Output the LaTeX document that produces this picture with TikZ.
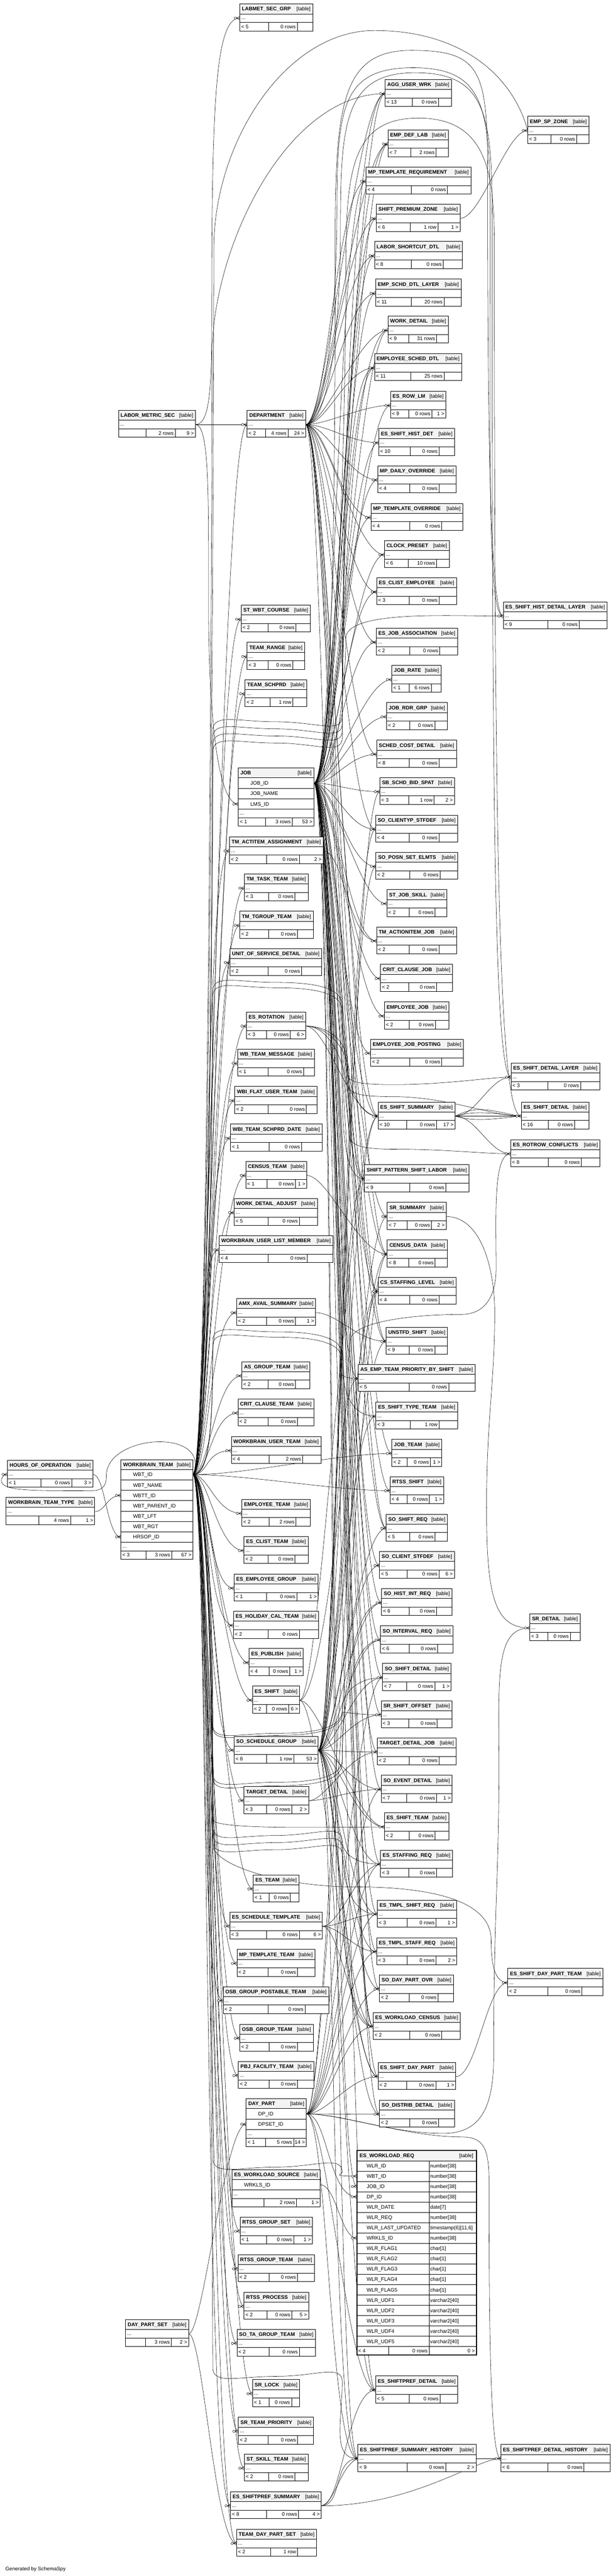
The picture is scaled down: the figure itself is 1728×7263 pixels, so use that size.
\documentclass[tikz,border=0pt]{standalone}
\usepackage{fontspec}
\setmainfont{Liberation Sans}
\pgfdeclarelayer{bg}
\pgfdeclarelayer{edges}
\pgfsetlayers{bg,edges,main}
\definecolor{hdrgray}{HTML}{F3F3F3}
\tikzset{
  hdr/.style={draw=black,fill=hdrgray,line width=1pt},
  cell/.style={draw=black,fill=white,line width=1pt},
  sepl/.style={draw=black,line width=1pt},
  fk/.style={draw=black,line width=0.8pt},
  ltxt/.style={anchor=base west,inner sep=0pt},
  rtxt/.style={anchor=base east,inner sep=0pt},
  crow/.pic={
    \draw[line width=0.8pt] (-9,0) -- (0,-5) (-9,0) -- (0,5) (-9,0) -- (0,0);
    \draw[line width=0.8pt,fill=white] (-12.5,0) circle[radius=3.3pt];
  }
}
% simple table: id, label, x, y, w, d1, d2, f1, f2, f3
\newcommand\tbl[9]{\def\tbid{#1}\def\tblabel{#2}\def\tbx{#3}\def\tby{#4}\def\tbw{#5}\def\tbdA{#6}\def\tbdB{#7}\def\tbfA{#8}\def\tbfB{#9}\tblfinish}
\newcommand\tblfinish[1]{%
  \pgfmathsetmacro\tbr{\tbx+\tbw}%
  \draw[hdr] (\tbx,\tby) rectangle (\tbr,\tby+28);
  \draw[cell] (\tbx,\tby+28) rectangle (\tbr,\tby+52);
  \draw[cell] (\tbx,\tby+52) rectangle (\tbr,\tby+76);
  \draw[sepl] (\tbdA,\tby+52) -- (\tbdA,\tby+76) (\tbdB,\tby+52) -- (\tbdB,\tby+76);
  \node[ltxt] (\tbid-h) at (\tbx+6,\tby+19.5) {\bfseries\tblabel};
  \node[rtxt] (\tbid-t) at (\tbr-6,\tby+19.5) {[table]};
  \node[ltxt] (\tbid-d) at (\tbx+4,\tby+44) {...};
  \node[ltxt] (\tbid-fa) at (\tbx+4,\tby+69) {\tbfA};
  \node[rtxt] (\tbid-fb) at (\tbdB-4,\tby+69) {\tbfB};
  \node[rtxt] (\tbid-fc) at (\tbr-4,\tby+69) {#1};
  \coordinate (\tbid-l) at (\tbx,\tby+40);
  \coordinate (\tbid-r) at (\tbr,\tby+40);
}
\newcommand\fhead[5]{%
  \draw[hdr] (#3,#4) rectangle (#3+#5,#4+28);
  \node[ltxt] (#1-h) at (#3+6,#4+19.5) {\bfseries #2};
  \node[rtxt] (#1-t) at (#3+#5-6,#4+19.5) {[table]};}
\newcommand\frow[6]{%
  \draw[cell] (#2,#3) rectangle (#2+#4,#3+#5);
  \node[ltxt] (#1) at (#2+34,#3+#5/2+5.3) {#6};}
\newcommand\fdots[4]{%
  \draw[cell] (#2,#3) rectangle (#2+#4,#3+24);
  \node[ltxt] (#1) at (#2+4,#3+16) {...};}
\newcommand\ffoot[9]{%
  \draw[cell] (#2,#3) rectangle (#2+#4,#3+24);
  \draw[sepl] (#5,#3) -- (#5,#3+24) (#6,#3) -- (#6,#3+24);
  \node[ltxt] (#1-fa) at (#2+4,#3+17) {#7};
  \node[rtxt] (#1-fb) at (#6-4,#3+17) {#8};
  \node[rtxt] (#1-fc) at (#2+#4-4,#3+17) {#9};}
\newcommand\trow[4]{%
  \draw[cell] (1006,#2) rectangle (1343,#2+29.1);
  \draw[sepl] (1210,#2) -- (1210,#2+29.1);
  \node[ltxt] (#1-n) at (1034,#2+19.9) {#3};
  \node[ltxt] (#1-y) at (1213,#2+19.9) {#4};}
% WORKBRAIN_TEAM edge through a gap: gap y, sign left channel, sign right channel, child
\newcommand\route[4]{%
  \path (#4); \pgfgetlastxy{\rcx}{\rcy}%
  \pgfmathsetmacro\rdy{abs(0-(\rcy)-(#1)-(#3)*40)*0.5}%
  \draw[fk] (wbt-r) .. controls +(45,0) and +(0,{0-(#2)*250}) .. (600,#1)
    .. controls +(0,{(#2)*50}) and +(-110,0) .. (780,{#1+(#2)*25})
    .. controls +(110,0) and +(0,{0-(#3)*50}) .. (965,{#1+(#3)*40})
    .. controls +(0,{(#3)*\rdy}) and +(-75,0) .. (#4);}
\begin{document}
\begin{tikzpicture}[x=1pt,y=-1pt,font=\fontsize{14.5}{17}\selectfont]
\useasboundingbox (0,0) rectangle (1728,7263);
\begin{pgfonlayer}{bg}
\fill[white] (0,0) rectangle (1728,7263);
\end{pgfonlayer}

% ---------------- column 1/2/3 tables
\tbl{labmet}{LABMET\_SEC\_GRP}{676}{11}{206}{758}{838}{< 5}{0 rows}{}
\tbl{lms}{LABOR\_METRIC\_SEC}{334}{1157}{217}{411}{494}{}{2 rows}{9 >}
\tbl{dept}{DEPARTMENT}{697}{1157}{165}{749}{812}{< 2}{4 rows}{24 >}
\tbl{stwbt}{ST\_WBT\_COURSE}{680}{1706}{195}{756}{835}{< 2}{0 rows}{}
\tbl{teamrange}{TEAM\_RANGE}{697}{1811}{162}{756}{826}{< 3}{0 rows}{}
\tbl{teamschprd}{TEAM\_SCHPRD}{691}{1916}{174}{761}{826}{< 2}{1 row}{}
\tbl{tmaa}{TM\_ACTITEM\_ASSIGNMENT}{647}{2359}{264}{752}{844}{< 2}{0 rows}{2 >}
\tbl{tmtask}{TM\_TASK\_TEAM}{689}{2464}{180}{757}{832}{< 3}{0 rows}{}
\tbl{tmtgroup}{TM\_TGROUP\_TEAM}{676}{2569}{207}{757}{839}{< 2}{0 rows}{}
\tbl{uos}{UNIT\_OF\_SERVICE\_DETAIL}{648}{2674}{259}{756}{850}{< 2}{0 rows}{}
\tbl{esrot}{ES\_ROTATION}{695}{2853}{167}{752}{819}{< 3}{0 rows}{6 >}
\tbl{wbtm}{WB\_TEAM\_MESSAGE}{670}{2958}{216}{756}{856}{< 1}{0 rows}{}
\tbl{wbifut}{WBI\_FLAT\_USER\_TEAM}{662}{3063}{232}{756}{864}{< 2}{0 rows}{}
\tbl{wbitsd}{WBI\_TEAM\_SCHPRD\_DATE}{650}{3169}{258}{759}{850}{< 1}{0 rows}{}
\tbl{censusteam}{CENSUS\_TEAM}{693}{3274}{172}{753}{833}{< 1}{0 rows}{1 >}
\tbl{wda}{WORK\_DETAIL\_ADJUST}{660}{3379}{235}{756}{844}{< 5}{0 rows}{}
\tbl{wulm}{WORKBRAIN\_USER\_LIST\_MEMBER}{618}{3484}{321}{756}{866}{< 4}{0 rows}{}
\tbl{amx}{AMX\_AVAIL\_SUMMARY}{667}{3661}{223}{752}{833}{< 2}{0 rows}{1 >}
\tbl{asgroup}{AS\_GROUP\_TEAM}{682}{3839}{192}{756}{833}{< 2}{0 rows}{}
\tbl{ccteam}{CRIT\_CLAUSE\_TEAM}{671}{3944}{214}{756}{839}{< 2}{0 rows}{}
\tbl{wbut}{WORKBRAIN\_USER\_TEAM}{652}{4050}{253}{759}{853}{< 4}{2 rows}{}
\tbl{empteam}{EMPLOYEE\_TEAM}{682}{4227}{193}{759}{835}{< 2}{2 rows}{}
\tbl{esclteam}{ES\_CLIST\_TEAM}{688}{4332}{181}{756}{832}{< 2}{0 rows}{}
\tbl{eseg}{ES\_EMPLOYEE\_GROUP}{660}{4438}{237}{752}{837}{< 1}{0 rows}{1 >}
\tbl{eshct}{ES\_HOLIDAY\_CAL\_TEAM}{658}{4543}{240}{756}{844}{< 2}{0 rows}{}
\tbl{espub}{ES\_PUBLISH}{702}{4648}{153}{759}{817}{< 4}{0 rows}{1 >}
\tbl{esshift}{ES\_SHIFT}{712}{4754}{133}{752}{814}{< 2}{0 rows}{6 >}
\tbl{sosg}{SO\_SCHEDULE\_GROUP}{660}{4895}{237}{752}{828}{< 8}{1 row}{53 >}
\tbl{tdet}{TARGET\_DETAIL}{688}{5037}{182}{752}{823}{< 3}{0 rows}{2 >}
\tbl{esteam}{ES\_TEAM}{714}{5286}{129}{759}{819}{< 1}{0 rows}{}
\tbl{esst}{ES\_SCHEDULE\_TEMPLATE}{648}{5391}{261}{752}{844}{< 3}{0 rows}{6 >}
\tbl{mptt}{MP\_TEMPLATE\_TEAM}{668}{5496}{220}{756}{839}{< 2}{0 rows}{}
\tbl{osbgpt}{OSB\_GROUP\_POSTABLE\_TEAM}{629}{5601}{298}{756}{860}{< 2}{0 rows}{}
\tbl{osbgt}{OSB\_GROUP\_TEAM}{676}{5707}{207}{759}{839}{< 2}{0 rows}{}
\tbl{pbj}{PBJ\_FACILITY\_TEAM}{672}{5812}{213}{759}{839}{< 2}{0 rows}{}
\tbl{rtssgs}{RTSS\_GROUP\_SET}{677}{6251}{204}{751}{828}{< 1}{0 rows}{1 >}
\tbl{rtssgt}{RTSS\_GROUP\_TEAM}{671}{6357}{215}{759}{839}{< 2}{0 rows}{}
\tbl{rtssp}{RTSS\_PROCESS}{688}{6463}{182}{753}{823}{< 2}{0 rows}{5 >}
\tbl{dps}{DAY\_PART\_SET}{354}{6540}{178}{410}{483}{}{3 rows}{2 >}
\tbl{sotagt}{SO\_TA\_GROUP\_TEAM}{668}{6567}{222}{759}{844}{< 2}{0 rows}{}
\tbl{srlock}{SR\_LOCK}{712}{6709}{133}{759}{822}{< 1}{0 rows}{}
\tbl{srtp}{SR\_TEAM\_PRIORITY}{672}{6815}{212}{756}{839}{< 2}{0 rows}{}
\tbl{stskill}{ST\_SKILL\_TEAM}{689}{6919}{180}{757}{832}{< 2}{0 rows}{}
\tbl{esps}{ES\_SHIFTPREF\_SUMMARY}{650}{7025}{256}{752}{842}{< 8}{0 rows}{4 >}
\tbl{tdps}{TEAM\_DAY\_PART\_SET}{667}{7131}{226}{763}{839}{< 2}{1 row}{}
\tbl{hoo}{HOURS\_OF\_OPERATION}{21}{4117}{241}{115}{202}{< 1}{0 rows}{3 >}
\tbl{wbtt}{WORKBRAIN\_TEAM\_TYPE}{17}{4222}{250}{109}{199}{}{4 rows}{1 >}

% JOB
\fhead{job}{JOB}{672}{2165}{213}
\frow{job-f1}{672}{2193}{213}{29.5}{JOB\_ID}
\frow{job-f2}{672}{2222.5}{213}{29.5}{JOB\_NAME}
\frow{job-f3}{672}{2252}{213}{29.5}{LMS\_ID}
\fdots{job-d}{672}{2281.5}{213}
\ffoot{job}{672}{2305.5}{213}{748}{824}{< 1}{3 rows}{53 >}
\coordinate (job-r) at (885,2208);
\coordinate (job-lms) at (672,2267);

% WORKBRAIN_TEAM
\fhead{wbt}{WORKBRAIN\_TEAM}{341}{4115}{203}
\frow{wbt-f1}{341}{4143}{203}{29.3}{WBT\_ID}
\frow{wbt-f2}{341}{4172.3}{203}{29.3}{WBT\_NAME}
\frow{wbt-f3}{341}{4201.6}{203}{29.3}{WBTT\_ID}
\frow{wbt-f4}{341}{4230.9}{203}{29.3}{WBT\_PARENT\_ID}
\frow{wbt-f5}{341}{4260.2}{203}{29.3}{WBT\_LFT}
\frow{wbt-f6}{341}{4289.5}{203}{29.3}{WBT\_RGT}
\frow{wbt-f7}{341}{4318.8}{203}{29.3}{HRSOP\_ID}
\fdots{wbt-d}{341}{4348.1}{203}
\ffoot{wbt}{341}{4372.1}{203}{412}{484}{< 3}{3 rows}{67 >}
\coordinate (wbt-r) at (544,4157.6);
\coordinate (wbt-wbtt) at (341,4216.2);
\coordinate (wbt-hrsop) at (341,4333.4);

% DAY_PART
\fhead{dp}{DAY\_PART}{694}{5917}{170}
\frow{dp-f1}{694}{5945}{170}{29.5}{DP\_ID}
\frow{dp-f2}{694}{5974.5}{170}{29.5}{DPSET\_ID}
\fdots{dp-d}{694}{6004}{170}
\ffoot{dp}{694}{6028}{170}{748}{828}{< 1}{5 rows}{14 >}
\coordinate (dp-r) at (864,5960);
\coordinate (dp-dpset) at (694,5989);

% ES_WORKLOAD_SOURCE
\fhead{esws}{ES\_WORKLOAD\_SOURCE}{654}{6117}{249}
\frow{esws-f1}{654}{6145}{249}{29.5}{WRKLS\_ID}
\fdots{esws-d}{654}{6174.5}{249}
\ffoot{esws}{654}{6198.5}{249}{744}{836}{}{2 rows}{1 >}
\coordinate (esws-r) at (903,6160);

% ---------------- column 4 tables
\tbl{agg}{AGG\_USER\_WRK}{1086}{224}{187}{1163}{1236}{< 13}{0 rows}{}
\tbl{edl}{EMP\_DEF\_LAB}{1094}{366}{170}{1158}{1230}{< 7}{2 rows}{}
\tbl{mptr}{MP\_TEMPLATE\_REQUIREMENT}{1032}{471}{296}{1159}{1262}{< 4}{0 rows}{}
\tbl{spz}{SHIFT\_PREMIUM\_ZONE}{1061}{576}{236}{1157}{1235}{< 6}{1 row}{1 >}
\tbl{lsd}{LABOR\_SHORTCUT\_DTL}{1056}{681}{248}{1159}{1250}{< 8}{0 rows}{}
\tbl{esdl}{EMP\_SCHD\_DTL\_LAYER}{1059}{787}{241}{1159}{1252}{< 11}{20 rows}{}
\tbl{wd}{WORK\_DETAIL}{1094}{891}{170}{1153}{1231}{< 9}{31 rows}{}
\tbl{esd}{EMPLOYEE\_SCHED\_DTL}{1056}{997}{246}{1158}{1252}{< 11}{25 rows}{}
\tbl{esrowlm}{ES\_ROW\_LM}{1101}{1103}{156}{1153}{1218}{< 9}{0 rows}{1 >}
\tbl{eshd}{ES\_SHIFT\_HIST\_DET}{1068}{1208}{214}{1157}{1238}{< 10}{0 rows}{}
\tbl{mpdo}{MP\_DAILY\_OVERRIDE}{1065}{1313}{221}{1155}{1238}{< 4}{0 rows}{}
\tbl{mpto}{MP\_TEMPLATE\_OVERRIDE}{1046}{1419}{259}{1155}{1246}{< 4}{0 rows}{}
\tbl{cp}{CLOCK\_PRESET}{1084}{1524}{183}{1151}{1231}{< 6}{10 rows}{}
\tbl{escle}{ES\_CLIST\_EMPLOYEE}{1062}{1629}{225}{1154}{1238}{< 3}{0 rows}{}
\tbl{esja}{ES\_JOB\_ASSOCIATION}{1061}{1771}{229}{1155}{1240}{< 2}{0 rows}{}
\tbl{jobrate}{JOB\_RATE}{1105}{1876}{139}{1154}{1216}{< 1}{6 rows}{}
\tbl{jrg}{JOB\_RDR\_GRP}{1090}{1981}{171}{1155}{1226}{< 2}{0 rows}{}
\tbl{scd}{SCHED\_COST\_DETAIL}{1062}{2087}{225}{1154}{1238}{< 8}{0 rows}{}
\tbl{sbsbs}{SB\_SCHD\_BID\_SPAT}{1071}{2192}{210}{1152}{1224}{< 3}{1 row}{2 >}
\tbl{soctsd}{SO\_CLIENTYP\_STFDEF}{1059}{2298}{232}{1154}{1238}{< 4}{0 rows}{}
\tbl{sopse}{SO\_POSN\_SET\_ELMTS}{1060}{2403}{231}{1155}{1241}{< 2}{0 rows}{}
\tbl{stjs}{ST\_JOB\_SKILL}{1091}{2508}{169}{1154}{1227}{< 2}{0 rows}{}
\tbl{tmaij}{TM\_ACTIONITEM\_JOB}{1062}{2613}{225}{1154}{1238}{< 2}{0 rows}{}
\tbl{ccjob}{CRIT\_CLAUSE\_JOB}{1073}{2719}{203}{1153}{1231}{< 2}{0 rows}{}
\tbl{empjob}{EMPLOYEE\_JOB}{1084}{2825}{182}{1154}{1228}{< 2}{0 rows}{}
\tbl{ejp}{EMPLOYEE\_JOB\_POSTING}{1045}{2930}{262}{1155}{1246}{< 2}{0 rows}{}
\tbl{esss}{ES\_SHIFT\_SUMMARY}{1066}{3107}{217}{1147}{1231}{< 10}{0 rows}{17 >}
\tbl{spsl}{SHIFT\_PATTERN\_SHIFT\_LABOR}{1028}{3284}{295}{1155}{1257}{< 9}{0 rows}{}
\tbl{srsum}{SR\_SUMMARY}{1092}{3390}{166}{1148}{1217}{< 7}{0 rows}{2 >}
\tbl{cdata}{CENSUS\_DATA}{1092}{3496}{169}{1152}{1227}{< 8}{0 rows}{}
\tbl{csl}{CS\_STAFFING\_LEVEL}{1066}{3601}{220}{1155}{1238}{< 4}{0 rows}{}
\tbl{unstfd}{UNSTFD\_SHIFT}{1089}{3742}{173}{1154}{1226}{< 9}{0 rows}{}
\tbl{asetp}{AS\_EMP\_TEAM\_PRIORITY\_BY\_SHIFT}{1010}{3847}{330}{1154}{1265}{< 5}{0 rows}{}
\tbl{estt}{ES\_SHIFT\_TYPE\_TEAM}{1060}{3953}{230}{1157}{1238}{< 3}{1 row}{}
\tbl{jobteam}{JOB\_TEAM}{1105}{4058}{141}{1148}{1214}{< 2}{0 rows}{1 >}
\tbl{rtsss}{RTSS\_SHIFT}{1100}{4163}{151}{1148}{1211}{< 4}{0 rows}{1 >}
\tbl{sosr}{SO\_SHIFT\_REQ}{1089}{4269}{173}{1155}{1227}{< 5}{0 rows}{}
\tbl{socs}{SO\_CLIENT\_STFDEF}{1070}{4374}{211}{1148}{1238}{< 5}{0 rows}{6 >}
\tbl{sohir}{SO\_HIST\_INT\_REQ}{1076}{4479}{199}{1154}{1231}{< 6}{0 rows}{}
\tbl{soir}{SO\_INTERVAL\_REQ}{1073}{4584}{204}{1154}{1234}{< 6}{0 rows}{}
\tbl{sosd}{SO\_SHIFT\_DETAIL}{1079}{4690}{193}{1147}{1226}{< 7}{0 rows}{1 >}
\tbl{srso}{SR\_SHIFT\_OFFSET}{1075}{4795}{200}{1153}{1233}{< 3}{0 rows}{}
\tbl{tdj}{TARGET\_DETAIL\_JOB}{1064}{4900}{222}{1154}{1238}{< 2}{0 rows}{}
\tbl{soed}{SO\_EVENT\_DETAIL}{1075}{5005}{200}{1147}{1231}{< 7}{0 rows}{1 >}
\tbl{esshteam}{ES\_SHIFT\_TEAM}{1084}{5111}{181}{1154}{1227}{< 2}{0 rows}{}
\tbl{esstaff}{ES\_STAFFING\_REQ}{1073}{5216}{203}{1153}{1231}{< 3}{0 rows}{}
\tbl{estshr}{ES\_TMPL\_SHIFT\_REQ}{1064}{5357}{223}{1148}{1230}{< 3}{0 rows}{1 >}
\tbl{estsr}{ES\_TMPL\_STAFF\_REQ}{1062}{5463}{226}{1148}{1230}{< 3}{0 rows}{2 >}
\tbl{sodpo}{SO\_DAY\_PART\_OVR}{1070}{5568}{209}{1154}{1235}{< 2}{0 rows}{}
\tbl{eswc}{ES\_WORKLOAD\_CENSUS}{1052}{5674}{246}{1155}{1246}{< 2}{0 rows}{}
\tbl{essdp}{ES\_SHIFT\_DAY\_PART}{1066}{5815}{219}{1147}{1229}{< 2}{0 rows}{1 >}
\tbl{sodd}{SO\_DISTRIB\_DETAIL}{1070}{5921}{211}{1155}{1237}{< 2}{0 rows}{}
\tbl{espd}{ES\_SHIFTPREF\_DETAIL}{1059}{6699}{232}{1154}{1241}{< 5}{0 rows}{}
\tbl{espsh}{ES\_SHIFTPREF\_SUMMARY\_HISTORY}{1009}{6892}{333}{1148}{1257}{< 9}{0 rows}{2 >}

% ES_WORKLOAD_REQ (focus table)
\draw[hdr] (1006,6063) rectangle (1343,6092);
\node[ltxt] (eswr-h) at (1014,6082.5) {\bfseries ES\_WORKLOAD\_REQ};
\node[rtxt] (eswr-t) at (1335,6082.5) {[table]};
\trow{eswr1}{6092}{WLR\_ID}{number[38]}
\trow{eswr2}{6121.1}{WBT\_ID}{number[38]}
\trow{eswr3}{6150.2}{JOB\_ID}{number[38]}
\trow{eswr4}{6179.3}{DP\_ID}{number[38]}
\trow{eswr5}{6208.4}{WLR\_DATE}{date[7]}
\trow{eswr6}{6237.5}{WLR\_REQ}{number[38]}
\trow{eswr7}{6266.6}{WLR\_LAST\_UPDATED}{timestamp(6)[11,6]}
\trow{eswr8}{6295.7}{WRKLS\_ID}{number[38]}
\trow{eswr9}{6324.8}{WLR\_FLAG1}{char[1]}
\trow{eswr10}{6353.9}{WLR\_FLAG2}{char[1]}
\trow{eswr11}{6383.0}{WLR\_FLAG3}{char[1]}
\trow{eswr12}{6412.1}{WLR\_FLAG4}{char[1]}
\trow{eswr13}{6441.2}{WLR\_FLAG5}{char[1]}
\trow{eswr14}{6470.3}{WLR\_UDF1}{varchar2[40]}
\trow{eswr15}{6499.4}{WLR\_UDF2}{varchar2[40]}
\trow{eswr16}{6528.5}{WLR\_UDF3}{varchar2[40]}
\trow{eswr17}{6557.6}{WLR\_UDF4}{varchar2[40]}
\trow{eswr18}{6586.7}{WLR\_UDF5}{varchar2[40]}
\ffoot{eswr}{1006}{6615.8}{337}{1096}{1210}{< 4}{0 rows}{0 >}
\draw[line width=2.8pt] (1006,6063) rectangle (1343,6640);
\coordinate (eswr-wbt) at (1006,6135.6);
\coordinate (eswr-job) at (1006,6164.7);
\coordinate (eswr-dp) at (1006,6193.8);
\coordinate (eswr-wrkls) at (1006,6310.2);

% ---------------- column 5 tables
\tbl{espz}{EMP\_SP\_ZONE}{1488}{328}{173}{1553}{1626}{< 3}{0 rows}{}
\tbl{eshdl}{ES\_SHIFT\_HIST\_DETAIL\_LAYER}{1419}{1697}{293}{1545}{1633}{< 9}{0 rows}{}
\tbl{essdl}{ES\_SHIFT\_DETAIL\_LAYER}{1441}{2997}{250}{1545}{1637}{< 3}{0 rows}{}
\tbl{essd}{ES\_SHIFT\_DETAIL}{1470}{3107}{191}{1546}{1620}{< 16}{0 rows}{}
\tbl{esrc}{ES\_ROTROW\_CONFLICTS}{1440}{3213}{252}{1546}{1639}{< 8}{0 rows}{}
\tbl{srdet}{SR\_DETAIL}{1494}{4550}{142}{1545}{1608}{< 3}{0 rows}{}
\tbl{essdpt}{ES\_SHIFT\_DAY\_PART\_TEAM}{1432}{5550}{268}{1545}{1641}{< 2}{0 rows}{}
\tbl{espdh}{ES\_SHIFTPREF\_DETAIL\_HISTORY}{1412}{6892}{308}{1545}{1647}{< 6}{0 rows}{}

\node[ltxt] (gen) at (15,7248) {Generated by SchemaSpy};

% ---------------- connectors
\begin{pgfonlayer}{edges}
% LABOR_METRIC_SEC
\draw[fk] (lms-r) -- (dept-l);
\draw[fk] (lms-r) .. controls +(40,0) and +(0,200) .. (597,900) .. controls +(0,-600) and +(-70,0) .. (labmet-l);
\draw[fk] (lms-r) .. controls +(40,0) and +(0,-300) .. (588,1700) .. controls +(0,300) and +(-60,0) .. (job-lms);
% hours / team type / team loop
\draw[fk] (hoo-r) .. controls +(35,0) and +(-40,0) .. (wbt-hrsop);
\draw[fk] (wbtt-r) .. controls +(30,0) and +(-40,0) .. (wbt-wbtt);
\draw[fk] (wbt-r) .. controls +(25,-60) and +(70,0) .. (450,4065) .. controls +(-70,0) and +(0,-60) .. (300,4160) .. controls +(0,40) and +(30,0) .. (250,4203) .. controls +(-150,0) and +(0,30) .. (4,4175) .. controls +(0,-12) and +(-8,0) .. (hoo-l);
% day part set, workload source
\draw[fk] (dps-r) .. controls +(40,0) and +(-60,0) .. (dp-dpset);
\draw[fk] (dps-r) .. controls +(40,0) and +(-60,0) .. (tdps-l);
\draw[fk] (esws-r) .. controls +(45,0) and +(-45,0) .. (eswr-wrkls);
% WORKBRAIN_TEAM -> column 3
\foreach \c in {dept,stwbt,teamrange,teamschprd,tmaa,tmtask,tmtgroup,uos,esrot,wbtm,wbifut,wbitsd,censusteam,wda,wulm,amx,asgroup,ccteam,wbut,empteam,esclteam,eseg,eshct,espub,esshift,sosg,tdet,esteam,esst,mptt,osbgpt,osbgt,pbj,rtssgs,rtssgt,rtssp,sotagt,srlock,srtp,stskill,esps,tdps}
  {\draw[fk] (wbt-r) .. controls +(45,0) and +(-75,0) .. (\c-l);}
% WORKBRAIN_TEAM -> column 4
\draw[fk] (wbt-r) .. controls +(150,0) and +(-150,0) .. (jobteam-l);
\draw[fk] (wbt-r) .. controls +(150,0) and +(-150,0) .. (rtsss-l);
\route{2060}{-1}{-1}{agg-l}
\route{2080}{-1}{-1}{edl-l}
\route{2100}{-1}{-1}{wd-l}
\route{2120}{-1}{-1}{esd-l}
\route{2795}{-1}{1}{esss-l}
\route{2810}{-1}{1}{spsl-l}
\route{3780}{-1}{1}{asetp-l}
\route{3795}{-1}{1}{estt-l}
\route{4862}{1}{-1}{sosd-l}
\route{4868}{1}{-1}{srso-l}
\route{5000}{1}{-1}{soir-l}
\route{5010}{1}{-1}{sohir-l}
\route{5150}{1}{1}{esstaff-l}
\route{5170}{1}{1}{estshr-l}
\route{5190}{1}{1}{eswc-l}
\route{6085}{1}{1}{eswr-wbt}
\route{6675}{1}{1}{espsh-l}
\draw[fk] (wbt-r) .. controls +(45,0) and +(0,-300) .. (600,5130) .. controls +(0,30) and +(-150,0) .. (esshteam-l);
\draw[fk] (wbt-r) .. controls +(45,0) and +(0,-300) .. (600,5200) .. controls +(0,60) and +(-200,0) .. (1000,5320) .. controls +(250,0) and +(0,-100) .. (1385,5470) .. controls +(0,60) and +(-40,0) .. (essdpt-l);
\draw[fk] (wbt-r) .. controls +(50,0) and +(0,300) .. (603,700) .. controls +(0,-300) and +(-250,0) .. (1056,86) .. controls +(250,0) and +(-40,-150) .. (espz-l);
\draw[fk] (wbt-r) .. controls +(45,0) and +(0,300) .. (598,1000) .. controls +(0,-300) and +(-280,0) .. (agg-l);
% JOB -> column 4
\foreach \c in {agg,edl,mptr,spz,lsd,esdl,wd,esd,esrowlm,eshd,mpdo,mpto,cp,escle,esja,jobrate,jrg,scd,sbsbs,soctsd,sopse,stjs,tmaij,ccjob,empjob,ejp,esss,spsl,srsum,cdata,csl,unstfd,asetp,jobteam,rtsss,sosr,socs,sohir,soir,sosd,srso,tdj,soed,esstaff,estshr,estsr,sodpo,eswc,essdp,sodd,espd,espsh}
  {\draw[fk] (job-r) .. controls +(60,0) and +(-80,0) .. (\c-l);}
\draw[fk] (job-r) .. controls +(60,0) and +(-80,0) .. (eswr-job);
% DEPARTMENT -> column 4
\foreach \c in {agg,edl,mptr,spz,lsd,esdl,wd,esd,esrowlm,eshd,mpdo,mpto,cp,escle,esja,scd,soctsd,esss,spsl,cdata,csl,unstfd,sosr,eswc}
  {\draw[fk] (dept-r) .. controls +(60,0) and +(-80,0) .. (\c-l);}
% SO_SCHEDULE_GROUP -> column 4
\foreach \c in {soctsd,sopse,sosr,socs,sohir,soir,sosd,srso,tdj,soed,esshteam,esstaff,sodpo,sodd,eswc,esss,srsum,cdata,csl,unstfd,asetp,estt,spsl,essdp,estshr,estsr,espd,espsh,sbsbs}
  {\draw[fk] (sosg-r) .. controls +(50,0) and +(-80,0) .. (\c-l);}
% DAY_PART -> column 4
\foreach \c in {essdp,sodd,sodpo,estshr,estsr,eswc,esstaff,csl,cdata,espd,espsh,sosd,soed}
  {\draw[fk] (dp-r) .. controls +(60,0) and +(-80,0) .. (\c-l);}
\draw[fk] (dp-r) .. controls +(60,0) and +(-80,0) .. (eswr-dp);
% other parents
\foreach \c in {estshr,estsr,esstaff,eswc}
  {\draw[fk] (esst-r) .. controls +(50,0) and +(-60,0) .. (\c-l);}
\draw[fk] (tdet-r) .. controls +(50,0) and +(-80,0) .. (tdj-l);
\draw[fk] (tdet-r) .. controls +(50,0) and +(-80,0) .. (soed-l);
\draw[fk] (censusteam-r) .. controls +(60,0) and +(-80,0) .. (cdata-l);
\draw[fk] (amx-r) .. controls +(60,0) and +(-80,0) .. (unstfd-l);
\draw[fk] (tmaa-r) .. controls +(60,0) and +(-80,0) .. (tmaij-l);
\foreach \c in {esshteam,essdp,esss}
  {\draw[fk] (esshift-r) .. controls +(60,0) and +(-80,0) .. (\c-l);}
\draw[fk] (esrot-r) .. controls +(60,0) and +(-80,0) .. (esss-l);
\draw[fk] (spz-r) .. controls +(60,0) and +(-60,0) .. (espz-l);
% top arcs to column 5
\draw[fk] (job-r) .. controls +(60,0) and +(0,400) .. (945,700) .. controls +(0,-400) and +(-200,0) .. (1160,142) .. controls +(200,0) and +(0,-300) .. (1375,500) .. controls +(0,600) and +(-40,0) .. (eshdl-l);
\draw[fk] (dept-r) .. controls +(50,0) and +(0,300) .. (950,600) .. controls +(0,-300) and +(-200,0) .. (1165,191) .. controls +(200,0) and +(0,-300) .. (1382,600) .. controls +(0,700) and +(-45,0) .. (eshdl-l);
\draw[fk] (dept-r) .. controls +(60,0) and +(0,300) .. (960,650) .. controls +(0,-300) and +(-200,0) .. (1170,205) .. controls +(200,0) and +(0,-300) .. (1388,620) .. controls +(0,1500) and +(-50,0) .. (essdl-l);
\draw[fk] (job-r) .. controls +(60,0) and +(0,400) .. (975,800) .. controls +(0,-300) and +(-200,0) .. (1180,333) .. controls +(200,0) and +(0,-200) .. (1394,700) .. controls +(0,1800) and +(-60,0) .. (essd-l);
\draw[fk] (job-r) .. controls +(60,0) and +(0,150) .. (975,1800) .. controls +(0,-80) and +(-150,0) .. (eshdl-l);
% ES_ROTATION -> column 5
\draw[fk] (esrot-r) .. controls +(70,0) and +(0,-60) .. (980,3000) .. controls +(0,40) and +(-150,0) .. (1110,3058) .. controls +(150,0) and +(-60,0) .. (essdl-l);
\draw[fk] (esrot-r) .. controls +(70,0) and +(0,-60) .. (985,3030) .. controls +(0,40) and +(-150,0) .. (1110,3092) .. controls +(150,0) and +(-80,0) .. (essd-l);
\draw[fk] (esrot-r) .. controls +(70,0) and +(0,-150) .. (985,3150) .. controls +(0,60) and +(-150,0) .. (1110,3240) .. controls +(150,0) and +(-80,0) .. (esrc-l);
% ES_SHIFT_SUMMARY fan
\draw[fk] (esss-r) .. controls +(60,0) and +(-60,0) .. (essd-l);
\draw[fk] (esss-r) .. controls +(60,-18) and +(-70,-6) .. (essd-l);
\draw[fk] (esss-r) .. controls +(60,18) and +(-70,6) .. (essd-l);
\draw[fk] (esss-r) .. controls +(70,-35) and +(-80,-12) .. (essd-l);
\draw[fk] (esss-r) .. controls +(60,0) and +(-60,0) .. (essdl-l);
\draw[fk] (esss-r) .. controls +(60,0) and +(-60,0) .. (esrc-l);
% long routes on the right
\draw[fk] (esshift-r) .. controls +(60,0) and +(0,300) .. (988,3780) .. controls +(0,-50) and +(-150,0) .. (1300,3706) .. controls +(80,0) and +(0,60) .. (1399,3576) .. controls +(0,-150) and +(-50,0) .. (esrc-l);
\draw[fk] (srsum-r) .. controls +(100,0) and +(0,-120) .. (1395,3700) .. controls +(0,200) and +(0,-250) .. (1372,4250) .. controls +(0,250) and +(-100,0) .. (srdet-l);
\draw[fk] (dp-r) .. controls +(100,0) and +(-150,0) .. (1250,6015) .. controls +(100,0) and +(0,150) .. (1392,5800) .. controls +(0,-400) and +(0,300) .. (1407,4985) .. controls +(0,-250) and +(-100,0) .. (srdet-l);
\draw[fk] (dp-r) .. controls +(100,0) and +(-150,0) .. (1300,6025) .. controls +(60,0) and +(0,-100) .. (1379,6150) .. controls +(0,400) and +(-30,0) .. (espdh-l);
\draw[fk] (essdp-r) .. controls +(60,0) and +(-60,0) .. (essdpt-l);
% shift preference group
\draw[fk] (esps-r) .. controls +(60,0) and +(-70,0) .. (espsh-l);
\draw[fk] (esps-r) .. controls +(40,-10) and +(-50,20) .. (espsh-l);
\draw[fk] (esps-r) .. controls +(60,0) and +(-80,0) .. (espd-l);
\draw[fk] (esps-r) .. controls +(260,0) and +(-70,0) .. (espdh-l);
\draw[fk] (espsh-r) -- (espdh-l);
\end{pgfonlayer}

% ---------------- crow's feet
\foreach \c in {labmet,dept,stwbt,teamrange,teamschprd,tmaa,tmtask,tmtgroup,uos,esrot,wbtm,wbifut,wbitsd,censusteam,wda,wulm,amx,asgroup,ccteam,wbut,empteam,esclteam,eseg,eshct,espub,esshift,sosg,tdet,esteam,esst,mptt,osbgpt,osbgt,pbj,rtssgs,rtssgt,rtssp,sotagt,srlock,srtp,stskill,esps,tdps,hoo,agg,edl,mptr,spz,lsd,esdl,wd,esd,esrowlm,eshd,mpdo,mpto,cp,escle,esja,jobrate,jrg,scd,sbsbs,soctsd,sopse,stjs,tmaij,ccjob,empjob,ejp,esss,spsl,srsum,cdata,csl,unstfd,asetp,estt,jobteam,rtsss,sosr,socs,sohir,soir,sosd,srso,tdj,soed,esshteam,esstaff,estshr,estsr,sodpo,eswc,essdp,sodd,espd,espsh,espz,eshdl,essdl,essd,esrc,srdet,essdpt,espdh}
  {\pic at (\c-l) {crow};}
\foreach \c in {job-lms,wbt-wbtt,wbt-hrsop,dp-dpset,eswr-wbt,eswr-job,eswr-dp,eswr-wrkls}
  {\pic at (\c) {crow};}
\end{tikzpicture}
\end{document}
